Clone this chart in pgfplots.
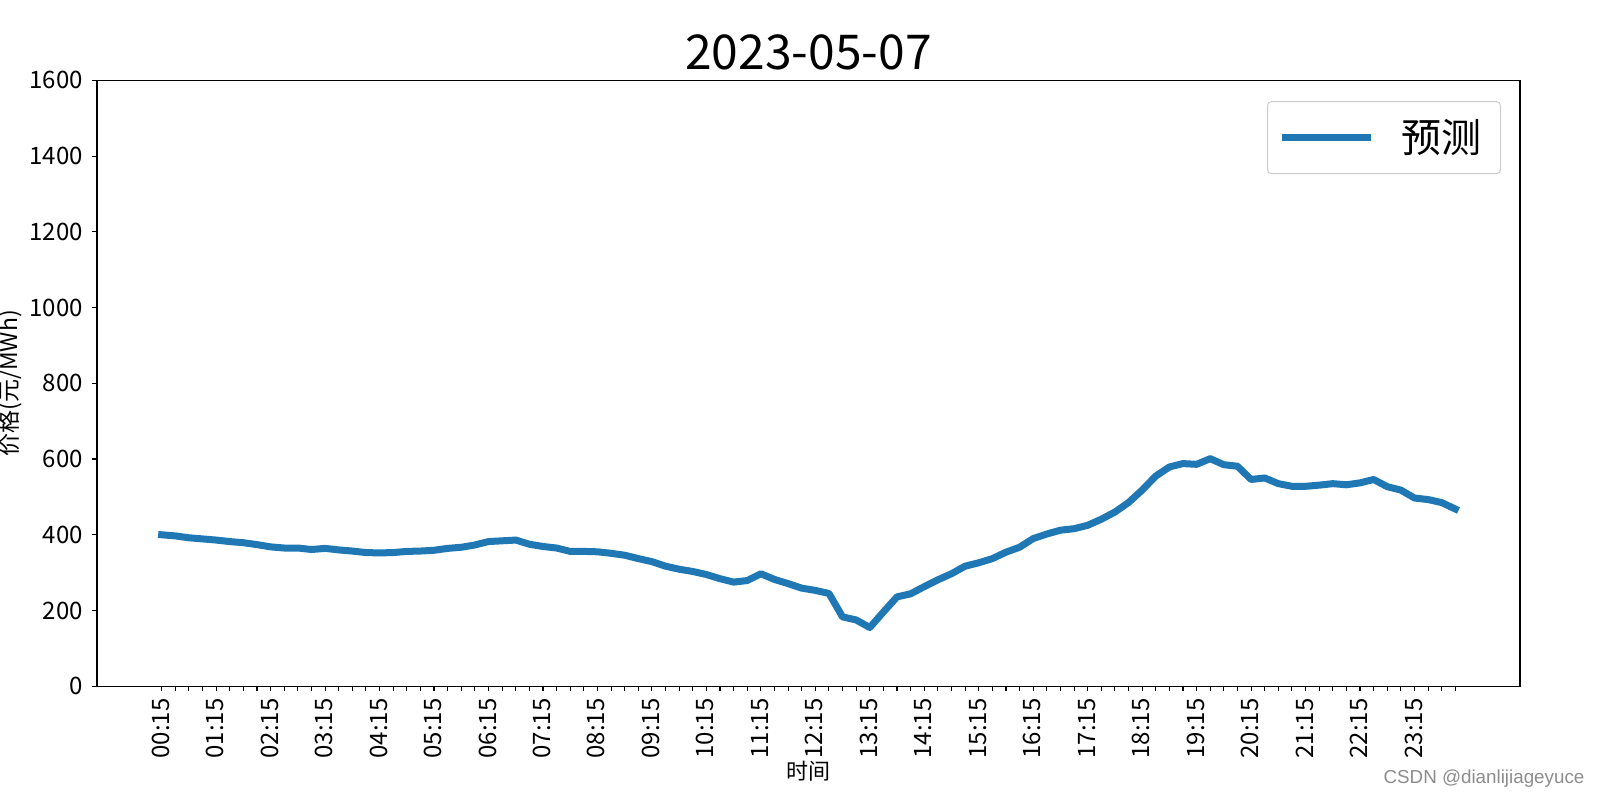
\documentclass[border=0pt]{standalone}
\usepackage{pgfplots}
\pgfplotsset{compat=1.18}
\usepackage{fontspec}
\setmainfont{Noto Sans CJK SC}
\newfontfamily\wmfont{Liberation Sans}
\definecolor{tabblue}{HTML}{1F77B4}
\begin{document}
\begin{tikzpicture}
\path[use as bounding box] (-48.5pt,-57pt) rectangle (751.5pt,343.1pt);
\begin{axis}[
  at={(0,0)}, anchor=south west,
  scale only axis, width=711.5pt, height=302.9pt,
  xmin=-4.75, xmax=99.75, ymin=0, ymax=1600,
  xtick={0,...,95},
  xticklabels={00:15,,,,01:15,,,,02:15,,,,03:15,,,,04:15,,,,05:15,,,,06:15,,,,07:15,,,,08:15,,,,09:15,,,,10:15,,,,11:15,,,,12:15,,,,13:15,,,,14:15,,,,15:15,,,,16:15,,,,17:15,,,,18:15,,,,19:15,,,,20:15,,,,21:15,,,,22:15,,,,23:15,,,},
  ytick={0,200,...,1600},
  tick align=outside, tick pos=left,
  major tick length=2.43pt,
  every tick/.style={black, line width=0.55pt},
  axis line style={line width=0.55pt},
  /pgf/number format/assume math mode=true,
  /pgf/number format/1000 sep={},
  ticklabel style={font=\fontsize{12pt}{14pt}\selectfont},
  xticklabel style={xshift=-0.5pt, yshift=-3.5pt, rotate=90, anchor=east, inner sep=0pt},
  yticklabel style={inner sep=0pt, xshift=-4.5pt},
  title={2023-05-07},
  title style={at={(axis description cs:0.5,1.0257)}, anchor=center, font=\fontsize{24pt}{29pt}\selectfont, inner sep=0pt},
  xlabel={时间},
  xlabel style={at={(axis description cs:0.5,-0.1411)}, anchor=center, font=\fontsize{11pt}{13pt}\selectfont, inner sep=0pt},
  ylabel={价格(元/MWh)},
  ylabel style={at={(axis description cs:-0.0609,0.5)}, anchor=center, font=\fontsize{11.5pt}{13pt}\selectfont, inner sep=0pt},
  legend style={at={(axis description cs:1,1)}, anchor=north east, xshift=-9.5pt, yshift=-10.35pt,
    draw=black!20, rounded corners=2pt, fill=white, line width=0.5pt,
    inner xsep=0pt, inner ysep=8pt, cells={anchor=center},
    nodes={inner sep=0pt, text height=17.6pt, text depth=2.4pt},
    font=\fontsize{20pt}{24pt}\selectfont},
  legend image code/.code={\path[draw=none,fill=none] (-7pt,0pt) rectangle (60pt,0pt); \draw[#1, line cap=butt] (0pt,0pt) -- (44.5pt,0pt);},
  clip=false,
]
\addplot[tabblue, line width=3.5pt, line cap=rect, line join=round] coordinates {
(0,400) (1,397) (2,392) (3,389) (4,386) (5,382) (6,379) (7,374) (8,368) (9,365)
(10,365) (11,361) (12,364) (13,360) (14,357) (15,353) (16,352) (17,353) (18,356) (19,357)
(20,359) (21,364) (22,367) (23,373) (24,382) (25,384) (26,386) (27,375) (28,369) (29,365)
(30,356) (31,356) (32,355) (33,351) (34,346) (35,337) (36,329) (37,317) (38,309) (39,303)
(40,295) (41,284) (42,275) (43,279) (44,297) (45,282) (46,271) (47,259) (48,253) (49,245)
(50,183) (51,175) (52,155) (53,196) (54,236) (55,244) (56,263) (57,281) (58,297) (59,317)
(60,326) (61,337) (62,354) (63,367) (64,390) (65,402) (66,412) (67,416) (68,425) (69,441)
(70,460) (71,485) (72,518) (73,555) (74,579) (75,588) (76,586) (77,601) (78,585) (79,581)
(80,546) (81,550) (82,535) (83,528) (84,528) (85,531) (86,535) (87,532) (88,537) (89,546)
(90,527) (91,518) (92,497) (93,493) (94,485) (95,468)
};
\addlegendentry{预测\hspace*{9.5pt}}
\node[font=\wmfont\fontsize{9.4pt}{11pt}\selectfont, text=black!45, anchor=center] at (axis description cs:0.9747,-0.1519) {CSDN @dianlijiageyuce};
\end{axis}
\end{tikzpicture}
\end{document}
